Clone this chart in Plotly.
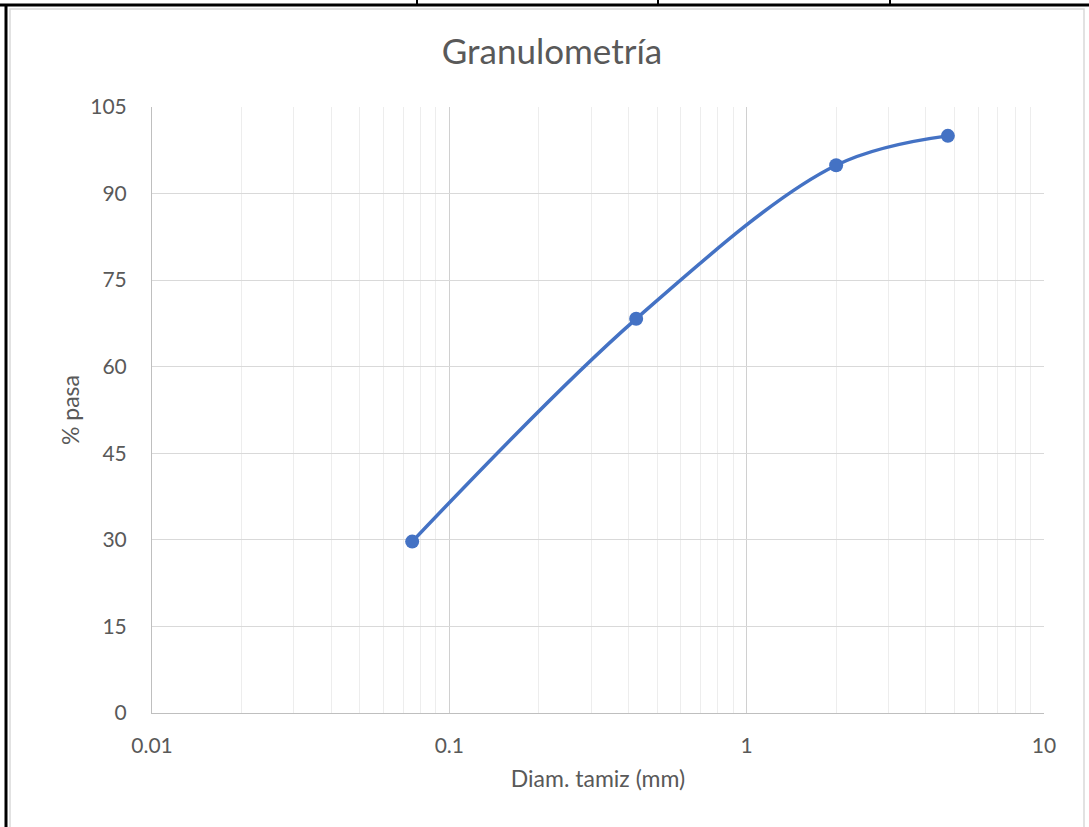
import plotly.graph_objects as go

diam_mm = [0.075, 0.425, 2.0, 4.75]
pct_pasa = [29.7, 68.3, 94.9, 100.0]
y_ticks = [0, 15, 30, 45, 60, 75, 90, 105]
x_ticks = [0.01, 0.1, 1, 10]
x_labels = ["0.01", "0.1", "1", "10"]

L, R, T, B = 152, 45, 107, 114
W, H = 1089, 827
PW, PH = W - L - R, H - T - B

def px(x):
    return (x - L) / PW

def py(y):
    return (H - B - y) / PH

fig = go.Figure()
fig.add_trace(go.Scatter(
    x=diam_mm, y=pct_pasa, mode="lines+markers",
    line=dict(color="#4472C4", width=3.5, shape="spline", smoothing=1.0),
    marker=dict(color="#4472C4", size=14),
    showlegend=False,
))

font = "Lato"
fig.update_layout(
    width=W, height=H,
    margin=dict(l=L, r=R, t=T, b=B),
    paper_bgcolor="white", plot_bgcolor="white",
    font=dict(family=font, color="#595959", size=21),
    title=dict(text="Granulometría", x=552 / W, xref="container", xanchor="center",
               y=1 - 52 / H, yref="container", yanchor="middle",
               font=dict(size=35, color="#595959", family=font)),
    xaxis=dict(
        type="log", range=[-2, 1], tickvals=x_ticks, ticktext=x_labels,
        showgrid=True, gridcolor="#d0d0d0", gridwidth=1,
        minor=dict(dtick="D1", showgrid=True, gridcolor="#ededed", gridwidth=1, ticks=""),
        showline=True, linecolor="#bfbfbf", linewidth=1, mirror=False,
        ticks="", ticklabelstandoff=14, zeroline=False,
        title=dict(text="Diam. tamiz (mm)", font=dict(size=23), standoff=14),
        tickfont=dict(size=21),
    ),
    yaxis=dict(
        range=[0, 105], tickvals=y_ticks,
        showgrid=True, gridcolor="#d9d9d9", gridwidth=1,
        showline=True, linecolor="#bfbfbf", linewidth=1,
        ticks="", ticklabelstandoff=20, zeroline=False,
        title=dict(text="% pasa", font=dict(size=23), standoff=4),
        tickfont=dict(size=21),
    ),
)

shapes = []
shapes.append(dict(type="rect", xref="paper", yref="paper",
                   x0=px(10), x1=px(1084), y0=py(9), y1=py(830),
                   line=dict(color="#d9d9d9", width=1.5), fillcolor="rgba(0,0,0,0)", layer="below"))
shapes.append(dict(type="line", xref="paper", yref="paper",
                   x0=px(0), x1=px(1089), y0=py(5), y1=py(5), line=dict(color="black", width=3)))
shapes.append(dict(type="line", xref="paper", yref="paper",
                   x0=px(6), x1=px(6), y0=py(4), y1=py(827), line=dict(color="black", width=3)))
for xv in [417, 658, 890]:
    shapes.append(dict(type="line", xref="paper", yref="paper",
                       x0=px(xv), x1=px(xv), y0=py(0), y1=py(5), line=dict(color="black", width=2)))
fig.update_layout(shapes=shapes)

fig.write_html("out.html")
